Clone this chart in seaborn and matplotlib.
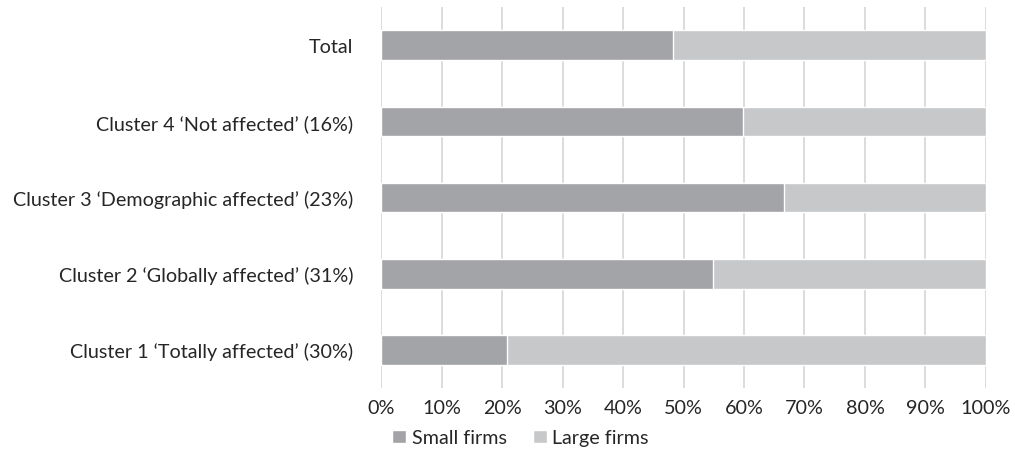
import matplotlib
matplotlib.use("Agg")
import matplotlib.pyplot as plt
import seaborn as sns
import pandas as pd
from matplotlib.patches import Patch
from matplotlib.ticker import FuncFormatter

categories = ["Total",
              "Cluster 4 \u2018Not affected\u2019 (16%)",
              "Cluster 3 \u2018Demographic affected\u2019 (23%)",
              "Cluster 2 \u2018Globally affected\u2019 (31%)",
              "Cluster 1 \u2018Totally affected\u2019 (30%)"]
small_firms = [48.3, 59.9, 66.6, 54.9, 20.9]
large_firms = [51.7, 40.1, 33.4, 45.1, 79.1]
x_ticks = [0, 10, 20, 30, 40, 50, 60, 70, 80, 90, 100]

sns.set_theme(style="white")
plt.rcParams['font.family'] = ['Lato', 'DejaVu Sans']

df = pd.DataFrame({"cat": categories, "small": small_firms, "large": large_firms})
df["total"] = df["small"] + df["large"]

DARK = "#A3A4A8"
LIGHT = "#C7C8CA"
TXT = "#262626"
FS = 14.2

fig = plt.figure(figsize=(10.15, 4.77), dpi=100)
ax = fig.add_axes([0.3754, 0.1845, 0.5960, 0.7985])

sns.barplot(data=df, y="cat", x="total", color=LIGHT, orient="h", width=0.39,
            ax=ax, saturation=1, zorder=3)
sns.barplot(data=df, y="cat", x="small", color=DARK, orient="h", width=0.39,
            ax=ax, saturation=1, zorder=4)

ax.set_xlim(0, 100)
ax.set_ylim(4.5, -0.5)
ax.set_xticks(x_ticks)
ax.xaxis.set_major_formatter(FuncFormatter(lambda v, p: f"{int(v)}%"))
ax.grid(axis="x", color="#D9D9D9", linewidth=1.3, zorder=0)
ax.set_axisbelow(True)
for s in ax.spines.values():
    s.set_visible(False)
ax.set_xlabel("")
ax.set_ylabel("")
ax.tick_params(axis="x", length=0, pad=8, labelsize=FS, labelcolor=TXT)
ax.tick_params(axis="y", length=0, pad=20, labelsize=FS, labelcolor=TXT)

handles = [Patch(facecolor=DARK, label="Small firms"),
           Patch(facecolor=LIGHT, label="Large firms")]
fig.legend(handles=handles, loc="center", bbox_to_anchor=(0.513, 0.08), ncol=2,
           frameon=False, fontsize=FS, handlelength=0.7, handleheight=0.7,
           handletextpad=0.3, columnspacing=1.3, labelcolor=TXT)

fig.savefig("out.png", dpi=100)
